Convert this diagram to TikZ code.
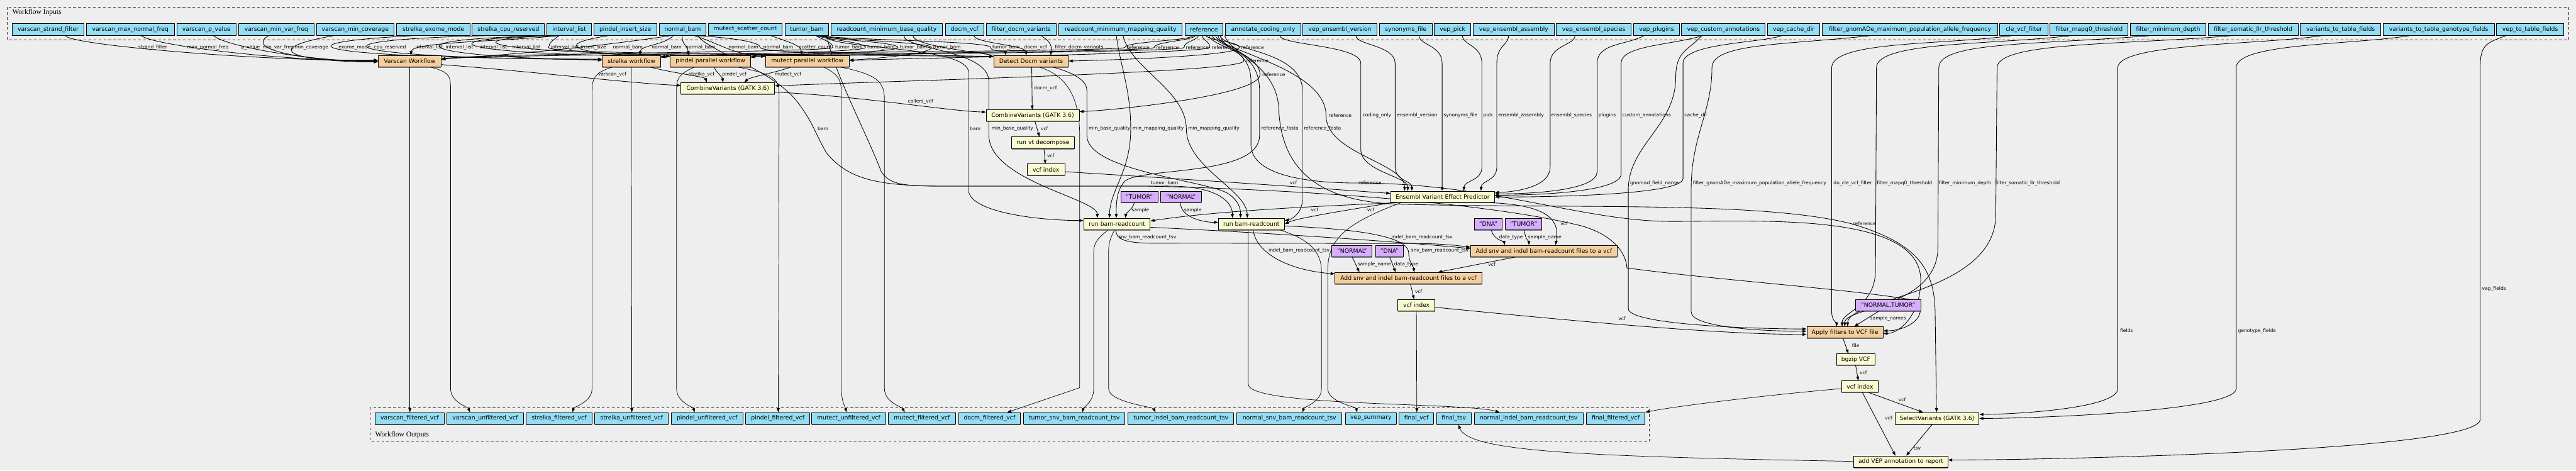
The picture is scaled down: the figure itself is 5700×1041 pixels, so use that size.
\documentclass[tikz,border=0pt]{standalone}
\usepackage{fontspec}
\setmainfont{DejaVu Sans}
\newfontfamily\ttlfont{Liberation Serif}
\usetikzlibrary{arrows.meta,shadows}
\definecolor{bgc}{HTML}{EEEEEE}
\definecolor{inc}{HTML}{94DDF4}
\definecolor{stc}{HTML}{FAFAD2}
\definecolor{sbc}{HTML}{F3CF9F}
\definecolor{cnc}{HTML}{D5AEFC}
\pgfdeclarelayer{back}\pgfdeclarelayer{edgelayer}\pgfsetlayers{back,edgelayer,main}
\newcommand\nodefont{\fontsize{12.9}{15}\selectfont}
\newcommand\labfont{\fontsize{10.6}{12}\selectfont}
\newcommand\mkbox[7]{\node[#2, minimum width={(#4-#3)*1pt}, minimum height={(#6-#5)*1pt}] (#1) at ({(#3+#4)/2},{-(#5+#6)/2}) {#7};}
\begin{document}
\begin{tikzpicture}[x=1pt,y=1pt,
 box/.style={draw=black, line width=1.3pt, inner sep=0pt, font=\nodefont, drop shadow={shadow xshift=0pt,shadow yshift=-2pt,fill=black,opacity=0.45}},
 inp/.style={box, fill=inc},
 stp/.style={box, fill=stc},
 sub/.style={box, fill=sbc},
 cst/.style={box, fill=cnc},
 outp/.style={box, fill=inc},
 e/.style={draw=black, line width=1.2pt, -{Triangle[length=9pt,width=6.5pt]}},
 eo/.style={e, line width=1pt},
 lab/.style={font=\labfont, anchor=west, inner sep=0.5pt, text=black},
 clu/.style={draw=black!85, line width=1.5pt, dash pattern=on 6pt off 5pt},
]
\useasboundingbox (0,0) rectangle (5700,-1041);
\begin{pgfonlayer}{back}
\fill[bgc] (0,0) rectangle (5700,-1041);
\draw[clu] (16,-16) rectangle (5684,-89);
\node[font=\ttlfont\fontsize{16}{18}\selectfont, anchor=west, inner sep=0pt] (tin) at (27,-28) {Workflow Inputs};
\draw[clu] (819,-902) rectangle (3650,-976);
\node[font=\ttlfont\fontsize{16}{18}\selectfont, anchor=west, inner sep=0pt] (tout) at (830,-963) {Workflow Outputs};
\end{pgfonlayer}

% ---------- inputs
\mkbox{iStrand}{inp}{27}{186}{52}{78}{varscan\_strand\_filter}
\mkbox{iMaxNorm}{inp}{191}{386}{52}{78}{varscan\_max\_normal\_freq}
\mkbox{iPval}{inp}{392}{522}{52}{78}{varscan\_p\_value}
\mkbox{iMinVar}{inp}{528}{695}{52}{78}{varscan\_min\_var\_freq}
\mkbox{iMinCov}{inp}{700}{872}{52}{78}{varscan\_min\_coverage}
\mkbox{iExome}{inp}{878}{1040}{52}{78}{strelka\_exome\_mode}
\mkbox{iCpu}{inp}{1045}{1205}{52}{78}{strelka\_cpu\_reserved}
\mkbox{iInt}{inp}{1210}{1309}{52}{78}{interval\_list}
\mkbox{iIns}{inp}{1314}{1453}{52}{78}{pindel\_insert\_size}
\mkbox{iNorm}{inp}{1459}{1562}{52}{78}{normal\_bam}
\mkbox{iScat}{inp}{1568}{1730}{52}{78}{mutect\_scatter\_count}
\mkbox{iTum}{inp}{1737}{1834}{52}{78}{tumor\_bam}
\mkbox{iBaseQ}{inp}{1839}{2085}{52}{78}{readcount\_minimum\_base\_quality}
\mkbox{iDocm}{inp}{2092}{2177}{52}{78}{docm\_vcf}
\mkbox{iFDocm}{inp}{2182}{2337}{52}{78}{filter\_docm\_variants}
\mkbox{iMapQ}{inp}{2343}{2616}{52}{78}{readcount\_minimum\_mapping\_quality}
\mkbox{iRef}{inp}{2622}{2706}{52}{78}{reference}
\mkbox{iCod}{inp}{2712}{2878}{52}{78}{annotate\_coding\_only}
\mkbox{iVer}{inp}{2883}{3047}{52}{78}{vep\_ensembl\_version}
\mkbox{iSyn}{inp}{3052}{3169}{52}{78}{synonyms\_file}
\mkbox{iPick}{inp}{3174}{3254}{52}{78}{vep\_pick}
\mkbox{iAsm}{inp}{3260}{3439}{52}{78}{vep\_ensembl\_assembly}
\mkbox{iSpe}{inp}{3444}{3609}{52}{78}{vep\_ensembl\_species}
\mkbox{iPlug}{inp}{3615}{3716}{52}{78}{vep\_plugins}
\mkbox{iCust}{inp}{3721}{3906}{52}{78}{vep\_custom\_annotations}
\mkbox{iCache}{inp}{3911}{4027}{52}{78}{vep\_cache\_dir}
\mkbox{iGnom}{inp}{4032}{4421}{52}{78}{filter\_gnomADe\_maximum\_population\_allele\_frequency}
\mkbox{iCle}{inp}{4425}{4532}{52}{78}{cle\_vcf\_filter}
\mkbox{iMq0}{inp}{4536}{4709}{52}{78}{filter\_mapq0\_threshold}
\mkbox{iDep}{inp}{4714}{4881}{52}{78}{filter\_minimum\_depth}
\mkbox{iLlr}{inp}{4886}{5085}{52}{78}{filter\_somatic\_llr\_threshold}
\mkbox{iFld}{inp}{5090}{5268}{52}{78}{variants\_to\_table\_fields}
\mkbox{iGeno}{inp}{5273}{5519}{52}{78}{variants\_to\_table\_genotype\_fields}
\mkbox{iVtt}{inp}{5524}{5673}{52}{78}{vep\_to\_table\_fields}

% ---------- steps
\mkbox{sVar}{sub}{837}{976}{123}{148}{Varscan Workflow}
\mkbox{sStr}{sub}{1333}{1462}{123}{148}{strelka workflow}
\mkbox{sPin}{sub}{1483}{1661}{123}{148}{pindel parallel workflow}
\mkbox{sMut}{sub}{1694}{1879}{123}{148}{mutect parallel workflow}
\mkbox{sDoc}{sub}{2199}{2364}{123}{148}{Detect Docm variants}
\mkbox{sCv1}{stp}{1507}{1714}{183}{208}{CombineVariants (GATK 3.6)}
\mkbox{sCv2}{stp}{2182}{2388}{243}{268}{CombineVariants (GATK 3.6)}
\mkbox{sVt}{stp}{2239}{2377}{303}{329}{run vt decompose}
\mkbox{sIx1}{stp}{2273}{2356}{363}{388}{vcf index}
\mkbox{sVep}{stp}{3077}{3307}{423}{448}{Ensembl Variant Effect Predictor}
\mkbox{kTum1}{cst}{2480}{2562}{423}{448}{"TUMOR"}
\mkbox{kNor1}{cst}{2568}{2658}{423}{448}{"NORMAL"}
\mkbox{sRc1}{stp}{2398}{2545}{483}{509}{run bam-readcount}
\mkbox{sRc2}{stp}{2696}{2842}{483}{509}{run bam-readcount}
\mkbox{kDna1}{cst}{3262}{3324}{483}{509}{"DNA"}
\mkbox{kTum2}{cst}{3331}{3412}{483}{509}{"TUMOR"}
\mkbox{sAt}{sub}{3254}{3578}{543}{568}{Add snv and indel bam-readcount files to a vcf}
\mkbox{kNor2}{cst}{2947}{3036}{543}{568}{"NORMAL"}
\mkbox{kDna2}{cst}{3044}{3105}{543}{568}{"DNA"}
\mkbox{sAn}{sub}{2954}{3279}{603}{628}{Add snv and indel bam-readcount files to a vcf}
\mkbox{sIx2}{stp}{3093}{3175}{663}{688}{vcf index}
\mkbox{kNT}{cst}{4106}{4250}{663}{688}{"NORMAL,TUMOR"}
\mkbox{sAf}{sub}{3998}{4167}{723}{748}{Apply filters to VCF file}
\mkbox{sBg}{stp}{4064}{4149}{783}{808}{bgzip VCF}
\mkbox{sIx3}{stp}{4075}{4156}{843}{868}{vcf index}
\mkbox{sSv}{stp}{4193}{4379}{913}{939}{SelectVariants (GATK 3.6)}
\mkbox{sAv}{stp}{4102}{4310}{1009}{1035}{add VEP annotation to report}

% ---------- outputs
\mkbox{oVf}{outp}{830}{983}{913}{939}{varscan\_filtered\_vcf}
\mkbox{oVu}{outp}{989}{1158}{913}{939}{varscan\_unfiltered\_vcf}
\mkbox{oSf}{outp}{1164}{1310}{913}{939}{strelka\_filtered\_vcf}
\mkbox{oSu}{outp}{1316}{1479}{913}{939}{strelka\_unfiltered\_vcf}
\mkbox{oPu}{outp}{1485}{1644}{913}{939}{pindel\_unfiltered\_vcf}
\mkbox{oPf}{outp}{1650}{1792}{913}{939}{pindel\_filtered\_vcf}
\mkbox{oMu}{outp}{1796}{1960}{913}{939}{mutect\_unfiltered\_vcf}
\mkbox{oMf}{outp}{1966}{2114}{913}{939}{mutect\_filtered\_vcf}
\mkbox{oDf}{outp}{2121}{2258}{913}{939}{docm\_filtered\_vcf}
\mkbox{oTs}{outp}{2265}{2489}{913}{939}{tumor\_snv\_bam\_readcount\_tsv}
\mkbox{oTi}{outp}{2496}{2730}{913}{939}{tumor\_indel\_bam\_readcount\_tsv}
\mkbox{oNs}{outp}{2737}{2969}{913}{939}{normal\_snv\_bam\_readcount\_tsv}
\mkbox{oVs}{outp}{2977}{3090}{913}{939}{vep\_summary}
\mkbox{oFv}{outp}{3096}{3172}{913}{939}{final\_vcf}
\mkbox{oFt}{outp}{3179}{3255}{913}{939}{final\_tsv}
\mkbox{oNi}{outp}{3262}{3503}{913}{939}{normal\_indel\_bam\_readcount\_tsv}
\mkbox{oFf}{outp}{3510}{3640}{913}{939}{final\_filtered\_vcf}

\begin{pgfonlayer}{edgelayer}
% varscan inputs
\draw[e] (145,0 |- iStrand.south) .. controls (150,-100) and (600,-137) .. (sVar.west |- 0,-133) node[lab] at (305,-105) {strand\_filter};
\draw[e] (312,0 |- iMaxNorm.south) .. controls (340,-102) and (650,-137) .. (sVar.west |- 0,-134) node[lab] at (413,-105) {max\_normal\_freq};
\draw[e] (472,0 |- iPval.south) .. controls (500,-104) and (700,-137) .. (sVar.west |- 0,-135) node[lab] at (533,-105) {p\_value};
\draw[e] (595,0 |- iMinVar.south) .. controls (530,-115) and (720,-137) .. (sVar.west |- 0,-136) node[lab] at (580,-105) {min\_var\_freq};
\draw[e] (740,0 |- iMinCov.south) .. controls (560,-110) and (660,-137) .. (sVar.west |- 0,-137) node[lab] at (651,-105) {min\_coverage};
% strelka inputs
\draw[e] (920,0 |- iExome.south) .. controls (600,-95) and (660,-128) .. (sStr.west |- 0,-131) node[lab] at (748,-105) {exome\_mode};
\draw[e] (1089,0 |- iCpu.south) .. controls (660,-88) and (720,-128) .. (sStr.west |- 0,-132) node[lab] at (826,-105) {cpu\_reserved};
% interval list
\draw[e] (1237,0 |- iInt.south) .. controls (1120,-92) and (912,-92) .. (909,0 |- sVar.north) node[lab] at (918,-105) {interval\_list};
\draw[e] (1237,0 |- iInt.south) .. controls (835,-85) and (910,-126) .. (sStr.west |- 0,-133) node[lab] at (985,-105) {interval\_list};
\draw[e] (1237,0 |- iInt.south) .. controls (920,-85) and (990,-121) .. (sPin.west |- 0,-124.5) node[lab] at (1060,-105) {interval\_list};
\draw[e] (1237,0 |- iInt.south) .. controls (990,-85) and (1030,-119) .. (sMut.west |- 0,-124.5) node[lab] at (1133,-105) {interval\_list};
\draw[e] (1237,0 |- iInt.south) .. controls (1225,-88) and (1214,-95) .. (1214,-105) .. controls (1214,-117) and (1500,-119) .. (sDoc.west |- 0,-125) node[lab] at (1218,-105) {interval\_list};
\draw[e] (1348,0 |- iIns.south) .. controls (1220,-98) and (1260,-121) .. (sPin.west |- 0,-124.5) node[lab] at (1284,-105) {insert\_size};
% normal bam
\draw[e] (1485,0 |- iNorm.south) .. controls (1360,-98) and (1150,-121) .. (sVar.east |- 0,-130) node[lab] at (1355,-105) {normal\_bam};
\draw[e] (1490,0 |- iNorm.south) .. controls (1470,-100) and (1418,-100) .. (1416,0 |- sStr.north) node[lab] at (1441,-105) {normal\_bam};
\draw[e] (1510,0 |- iNorm.south) .. controls (1508,-100) and (1522,-100) .. (1523,0 |- sPin.north) node[lab] at (1516,-105) {normal\_bam};
\draw[e] (1535,0 |- iNorm.south) .. controls (1590,-95) and (1620,-120) .. (sMut.west |- 0,-125) node[lab] at (1611,-105) {normal\_bam};
\draw[e] (1540,0 |- iNorm.south) .. controls (1640,-85) and (1682,-95) .. (1682,-105) .. controls (1682,-117) and (1900,-119) .. (sDoc.west |- 0,-125) node[lab] at (1688,-105) {normal\_bam};
\draw[e] (1705,0 |- iScat.south) .. controls (1750,-95) and (1772,-100) .. (1774,0 |- sMut.north) node[lab] at (1767,-105) {scatter\_count};
% tumor bam
\draw[e] (1805,0 |- iTum.south) .. controls (1820,-88) and (1843,-93) .. (1843,-105) .. controls (1843,-116) and (1050,-118) .. (sVar.east |- 0,-131) node[lab] at (1847,-105) {tumor\_bam};
\draw[e] (1808,0 |- iTum.south) .. controls (1825,-88) and (1915,-93) .. (1915,-105) .. controls (1915,-118) and (1490,-120) .. (sStr.east |- 0,-127) node[lab] at (1918,-105) {tumor\_bam};
\draw[e] (1812,0 |- iTum.south) .. controls (1830,-88) and (1987,-93) .. (1987,-105) .. controls (1987,-118) and (1690,-120) .. (sPin.east |- 0,-127) node[lab] at (1990,-105) {tumor\_bam};
\draw[e] (1816,0 |- iTum.south) .. controls (1835,-88) and (2061,-93) .. (2061,-105) .. controls (2061,-120) and (1920,-131) .. (sMut.east |- 0,-133) node[lab] at (2064,-105) {tumor\_bam};
\draw[e] (1820,0 |- iTum.south) .. controls (1840,-88) and (2192,-90) .. (2192,-105) .. controls (2192,-115) and (2224,-112) .. (2226,0 |- sDoc.north) node[lab] at (2195,-105) {tumor\_bam};
% docm
\draw[e] (2155,0 |- iDocm.south) .. controls (2155,-95) and (2268,-100) .. (2271,0 |- sDoc.north) node[lab] at (2265,-105) {docm\_vcf};
\draw[e] (2303,0 |- iFDocm.south) .. controls (2330,-95) and (2326,-105) .. (2325,0 |- sDoc.north) node[lab] at (2333,-105) {filter\_docm\_variants};
% reference to callers
\draw[e] (2640,0 |- iRef.south) .. controls (2635,-90) and (2489,-92) .. (2489,-105) .. controls (2489,-116) and (1050,-118) .. (sVar.east |- 0,-132) node[lab] at (2492,-105) {reference};
\draw[e] (2645,0 |- iRef.south) .. controls (2640,-90) and (2554,-92) .. (2554,-105) .. controls (2554,-117) and (1500,-120) .. (sStr.east |- 0,-127) node[lab] at (2557,-105) {reference};
\draw[e] (2652,0 |- iRef.south) .. controls (2648,-90) and (2620,-92) .. (2620,-105) .. controls (2620,-117) and (1700,-120) .. (sPin.east |- 0,-127) node[lab] at (2623,-105) {reference};
\draw[e] (2660,0 |- iRef.south) .. controls (2662,-90) and (2677,-92) .. (2677,-105) .. controls (2677,-118) and (1950,-130) .. (sMut.east |- 0,-134) node[lab] at (2680,-105) {reference};
\draw[e] (2668,0 |- iRef.south) .. controls (2675,-90) and (2742,-92) .. (2742,-105) .. controls (2742,-125) and (2420,-134) .. (sDoc.east |- 0,-135) node[lab] at (2745,-105) {reference};
\draw[e] (2675,0 |- iRef.south) .. controls (2680,-100) and (2752,-110) .. (2752,-135) .. controls (2752,-160) and (2000,-178) .. (sCv1.east |- 0,-190) node[lab] at (2755,-135) {reference};
\draw[e] (2682,0 |- iRef.south) .. controls (2690,-100) and (2788,-120) .. (2788,-165) .. controls (2788,-210) and (2480,-243) .. (sCv2.east |- 0,-247) node[lab] at (2792,-165) {reference};
% combine
\draw[e] (sVar.east |- 0,-143) .. controls (1200,-160) and (1400,-185) .. (sCv1.west |- 0,-189) node[lab] at (1322,-165) {varscan\_vcf};
\draw[e] (1440,0 |- sStr.south) .. controls (1480,-160) and (1560,-170) .. (1564,0 |- sCv1.north) node[lab] at (1523,-165) {strelka\_vcf};
\draw[e] (1580,0 |- sPin.south) .. controls (1585,-160) and (1598,-170) .. (1600,0 |- sCv1.north) node[lab] at (1597,-165) {pindel\_vcf};
\draw[e] (1749,0 |- sMut.south) .. controls (1720,-160) and (1660,-170) .. (1647,0 |- sCv1.north) node[lab] at (1713,-165) {mutect\_vcf};
\draw[e] (sCv1.east |- 0,-204) .. controls (1900,-212) and (2100,-246) .. (sCv2.west |- 0,-248) node[lab] at (2008,-225) {callers\_vcf};
\draw[e] (2283,0 |- sDoc.south) -- (2284,0 |- sCv2.north) node[lab] at (2287,-195) {docm\_vcf};
\draw[e] (2290,0 |- sCv2.south) -- (2300,0 |- sVt.north) node[lab] at (2302,-285) {vcf};
\draw[e] (2310,0 |- sVt.south) -- (2313,0 |- sIx1.north) node[lab] at (2316,-345) {vcf};
\draw[e] (sIx1.east |- 0,-380) .. controls (2600,-395) and (2900,-415) .. (sVep.west |- 0,-428) node[lab] at (2853,-405) {vcf};
% VEP inputs
\draw[e] (2690,0 |- iRef.south) .. controls (2690,-110) and (2934,-150) .. (2934,-255) .. controls (2934,-340) and (3108,-360) .. (3108,0 |- sVep.north) node[lab] at (2939,-255) {reference};
\draw[e] (2832,0 |- iCod.south) .. controls (2832,-100) and (3011,-100) .. (3011,-140) -- (3011,-330) .. controls (3011,-380) and (3115,-390) .. (3115,0 |- sVep.north) node[lab] at (3014,-255) {coding\_only};
\draw[e] (3000,0 |- iVer.south) .. controls (3000,-100) and (3087,-100) .. (3087,-140) -- (3087,-370) .. controls (3087,-400) and (3124,-400) .. (3124,0 |- sVep.north) node[lab] at (3090,-255) {ensembl\_version};
\draw[e] (3140,0 |- iSyn.south) .. controls (3140,-100) and (3191,-100) .. (3191,-140) -- (3191,0 |- sVep.north) node[lab] at (3193,-255) {synonyms\_file};
\draw[e] (3236,0 |- iPick.south) .. controls (3236,-100) and (3279,-100) .. (3279,-140) -- (3279,-370) .. controls (3279,-400) and (3240,-400) .. (3239,0 |- sVep.north) node[lab] at (3281,-255) {pick};
\draw[e] (3338,0 |- iAsm.south) .. controls (3338,-100) and (3312,-100) .. (3312,-140) -- (3312,-370) .. controls (3312,-400) and (3278,-400) .. (3277,0 |- sVep.north) node[lab] at (3314,-255) {ensembl\_assembly};
\draw[e] (3485,0 |- iSpe.south) .. controls (3485,-100) and (3430,-100) .. (3430,-140) -- (3430,-370) .. controls (3430,-415) and (3350,-425) .. (sVep.east |- 0,-426) node[lab] at (3431,-255) {ensembl\_species};
\draw[e] (3638,0 |- iPlug.south) .. controls (3600,-100) and (3534,-95) .. (3534,-140) -- (3534,-380) .. controls (3534,-420) and (3400,-429) .. (sVep.east |- 0,-429) node[lab] at (3536,-255) {plugins};
\draw[e] (3768,0 |- iCust.south) .. controls (3700,-100) and (3587,-100) .. (3587,-140) -- (3587,-385) .. controls (3587,-425) and (3400,-432) .. (sVep.east |- 0,-432) node[lab] at (3589,-255) {custom\_annotations};
\draw[e] (3943,0 |- iCache.south) .. controls (3900,-95) and (3724,-95) .. (3724,-140) -- (3724,-395) .. controls (3724,-430) and (3450,-436) .. (sVep.east |- 0,-436) node[lab] at (3726,-255) {cache\_dir};
% filter inputs
\draw[e] (3765,0 |- iCust.south) .. controls (3740,-110) and (3708,-110) .. (3708,-170) .. controls (3708,-280) and (3603,-320) .. (3603,-420) -- (3603,-683) .. controls (3603,-720) and (3900,-728) .. (sAf.west |- 0,-728) node[lab] at (3606,-405) {gnomad\_field\_name};
\draw[e] (4141,0 |- iGnom.south) .. controls (3950,-100) and (3788,-95) .. (3788,-150) .. controls (3788,-250) and (3742,-300) .. (3742,-420) -- (3742,-690) .. controls (3742,-725) and (3900,-733) .. (sAf.west |- 0,-733) node[lab] at (3745,-405) {filter\_gnomADe\_maximum\_population\_allele\_frequency};
\draw[e] (4453,0 |- iCle.south) .. controls (4300,-100) and (4053,-90) .. (4053,-150) -- (4053,-690) .. controls (4053,-710) and (4064,-715) .. (4064,0 |- sAf.north) node[lab] at (4056,-405) {do\_cle\_vcf\_filter};
\draw[e] (4585,0 |- iMq0.south) .. controls (4400,-100) and (4152,-92) .. (4152,-150) -- (4150,-600) .. controls (4148,-680) and (4076,-690) .. (4076,0 |- sAf.north) node[lab] at (4152,-405) {filter\_mapq0\_threshold};
\draw[e] (4761,0 |- iDep.south) .. controls (4500,-100) and (4290,-92) .. (4290,-150) -- (4288,-550) .. controls (4285,-680) and (4082,-680) .. (4082,0 |- sAf.north) node[lab] at (4289,-405) {filter\_minimum\_depth};
\draw[e] (4941,0 |- iLlr.south) .. controls (4700,-100) and (4419,-92) .. (4419,-150) -- (4416,-480) .. controls (4410,-650) and (4090,-660) .. (4088,0 |- sAf.north) node[lab] at (4414,-405) {filter\_somatic\_llr\_threshold};
\draw[e] (5139,0 |- iFld.south) .. controls (5000,-100) and (4686,-95) .. (4686,-150) -- (4686,-860) .. controls (4686,-905) and (4450,-917) .. (sSv.east |- 0,-917) node[lab] at (4690,-732) {fields};
\draw[e] (5334,0 |- iGeno.south) .. controls (5200,-100) and (4948,-95) .. (4948,-150) -- (4948,-860) .. controls (4948,-910) and (4500,-926) .. (sSv.east |- 0,-926) node[lab] at (4951,-732) {genotype\_fields};
\draw[e] (5546,0 |- iVtt.south) .. controls (5500,-95) and (5488,-100) .. (5488,-150) -- (5488,-928) .. controls (5488,-1000) and (4500,-1018) .. (sAv.east |- 0,-1018) node[lab] at (5491,-640) {vep\_fields};
% reference to filters and select
\draw[e] (2700,0 |- iRef.south) .. controls (2705,-110) and (2768,-110) .. (2768,-180) -- (2768,-320) .. controls (2768,-390) and (2900,-405) .. (3002,-405) .. controls (3300,-405) and (3500,-490) .. (3700,-490) .. controls (3900,-490) and (4250,-470) .. (4250,-620) .. controls (4250,-700) and (4200,-738) .. (sAf.east |- 0,-738) node[lab] at (3005,-405) {reference};
\draw[e] (2710,0 |- iRef.south) .. controls (2720,-120) and (2830,-140) .. (2830,-250) .. controls (2840,-400) and (2950,-448) .. (3100,-452) .. controls (3500,-462) and (3900,-445) .. (4096,-495) .. controls (4250,-540) and (4282,-600) .. (4282,-700) -- (4285,0 |- sSv.north) node[lab] at (4099,-495) {reference};
\draw[e] (1830,0 |- iTum.south) .. controls (1840,-150) and (1920,-300) .. (1950,-380) .. controls (1970,-410) and (2000,-412) .. (2100,-412) -- (2540,-412) .. controls (2900,-420) and (3300,-450) .. (3500,-500) .. controls (3570,-520) and (3598,-560) .. (3600,-593) .. controls (3800,-620) and (4100,-640) .. (4240,-665) .. controls (4270,-700) and (4220,-732) .. (sAf.east |- 0,-732) node[lab] at (2545,-405) {tumor\_bam};
% bam-readcount tumor
\draw[e] (1825,0 |- iTum.south) .. controls (1830,-110) and (2143,-100) .. (2143,-160) -- (2143,-420) .. controls (2143,-470) and (2300,-488) .. (sRc1.west |- 0,-488) node[lab] at (2145,-285) {bam};
\draw[e] (2000,0 |- iBaseQ.south) .. controls (2000,-110) and (2188,-110) .. (2188,-180) -- (2188,-300) .. controls (2190,-400) and (2428,-440) .. (2428,0 |- sRc1.north) node[lab] at (2193,-285) {min\_base\_quality};
\draw[e] (2470,0 |- iMapQ.south) .. controls (2480,-150) and (2502,-200) .. (2502,-285) .. controls (2502,-380) and (2456,-420) .. (2455,0 |- sRc1.north) node[lab] at (2505,-285) {min\_mapping\_quality};
\draw[e] (2695,0 |- iRef.south) .. controls (2700,-110) and (2787,-110) .. (2787,-200) -- (2787,-300) .. controls (2787,-390) and (2530,-370) .. (2490,-400) .. controls (2470,-420) and (2470,-450) .. (2470,0 |- sRc1.north) node[lab] at (2790,-285) {reference\_fasta};
\draw[e] (2510,0 |- kTum1.south) .. controls (2505,-465) and (2492,-470) .. (2490,0 |- sRc1.north) node[lab] at (2503,-465) {sample};
\draw[e] (3090,0 |- sVep.south) .. controls (2950,-455) and (2700,-465) .. (sRc1.east |- 0,-489) node[lab] at (3024,-465) {vcf};
% bam-readcount normal
\draw[e] (1545,0 |- iNorm.south) .. controls (1560,-110) and (1700,-150) .. (1760,-220) .. controls (1800,-270) and (1805,-300) .. (1830,-340) .. controls (1880,-400) and (1950,-412) .. (2100,-412) -- (2600,-412) .. controls (2700,-415) and (2727,-450) .. (2727,0 |- sRc2.north) node[lab] at (1808,-285) {bam};
\draw[e] (2020,0 |- iBaseQ.south) .. controls (2025,-120) and (2405,-120) .. (2405,-200) -- (2405,-300) .. controls (2405,-380) and (2680,-400) .. (2720,-430) .. controls (2740,-445) and (2745,-460) .. (2745,0 |- sRc2.north) node[lab] at (2408,-285) {min\_base\_quality};
\draw[e] (2485,0 |- iMapQ.south) .. controls (2500,-150) and (2625,-200) .. (2625,-285) .. controls (2625,-370) and (2758,-420) .. (2760,0 |- sRc2.north) node[lab] at (2628,-285) {min\_mapping\_quality};
\draw[e] (2700,0 |- iRef.south) .. controls (2705,-110) and (2882,-110) .. (2882,-200) -- (2882,-440) .. controls (2882,-470) and (2860,-485) .. (sRc2.east |- 0,-488) node[lab] at (2884,-285) {reference\_fasta};
\draw[e] (2612,0 |- kNor1.south) .. controls (2612,-480) and (2660,-492) .. (sRc2.west |- 0,-492) node[lab] at (2619,-465) {sample};
\draw[e] (3080,0 |- sVep.south) .. controls (3000,-462) and (2870,-482) .. (sRc2.east |- 0,-496) node[lab] at (2900,-465) {vcf};
% add tumor readcount
\draw[e] (3300,0 |- sVep.south) .. controls (3440,-455) and (3450,-495) .. (3442,0 |- sAt.north) node[lab] at (3452,-495) {vcf};
\draw[e] (2469,0 |- sRc1.south) .. controls (2470,-530) and (2490,-538) .. (2550,-538) -- (3150,-539) .. controls (3200,-540) and (3230,-544) .. (sAt.west |- 0,-547) node[lab] at (2474,-525) {snv\_bam\_readcount\_tsv};
\draw[e] (sRc1.east |- 0,-503) .. controls (2800,-515) and (3100,-535) .. (sAt.west |- 0,-550) node[lab] at (3078,-525) {indel\_bam\_readcount\_tsv};
\draw[e] (3300,0 |- kDna1.south) .. controls (3305,-530) and (3328,-535) .. (3330,0 |- sAt.north) node[lab] at (3316,-525) {data\_type};
\draw[e] (3373,0 |- kTum2.south) .. controls (3375,-530) and (3383,-535) .. (3383,0 |- sAt.north) node[lab] at (3380,-525) {sample\_name};
% add normal readcount
\draw[e] (3354,0 |- sAt.south) -- (3182,0 |- sAn.north) node[lab] at (3292,-585) {vcf};
\draw[e] (2773,0 |- sRc2.south) .. controls (2780,-560) and (2850,-598) .. (sAn.west |- 0,-606) node[lab] at (2806,-555) {indel\_bam\_readcount\_tsv};
\draw[e] (sRc2.east |- 0,-500) .. controls (2950,-505) and (3117,-515) .. (3117,-560) .. controls (3117,-580) and (3128,-590) .. (3129,0 |- sAn.north) node[lab] at (3121,-555) {snv\_bam\_readcount\_tsv};
\draw[e] (2992,0 |- kNor2.south) -- (3008,0 |- sAn.north) node[lab] at (3003,-585) {sample\_name};
\draw[e] (3075,0 |- kDna2.south) -- (3088,0 |- sAn.north) node[lab] at (3084,-585) {data\_type};
\draw[e] (3121,0 |- sAn.south) -- (3129,0 |- sIx2.north) node[lab] at (3130,-645) {vcf};
% filter chain
\draw[e] (sIx2.east |- 0,-680) .. controls (3500,-712) and (3800,-740) .. (sAf.west |- 0,-740) node[lab] at (3580,-705) {vcf};
\draw[e] (4157,0 |- kNT.south) -- (4103,0 |- sAf.north) node[lab] at (4137,-705) {sample\_names};
\draw[e] (4078,0 |- sAf.south) -- (4090,0 |- sBg.north) node[lab] at (4097,-765) {file};
\draw[e] (4106,0 |- sBg.south) -- (4112,0 |- sIx3.north) node[lab] at (4114,-825) {vcf};
\draw[e] (4135,0 |- sIx3.south) -- (4255,0 |- sSv.north) node[lab] at (4200,-885) {vcf};
\draw[e] (4121,0 |- sIx3.south) -- (4194,0 |- sAv.north) node[lab] at (4170,-925) {vcf};
\draw[e] (4275,0 |- sSv.south) -- (4218,0 |- sAv.north) node[lab] at (4233,-992) {tsv};
% outputs
\draw[eo] (907,0 |- sVar.south) -- (907,0 |- oVf.north);
\draw[eo] (953,0 |- sVar.south) .. controls (997,-160) and (997,-170) .. (997,-200) -- (997,-860) .. controls (997,-890) and (1035,-900) .. (1040,0 |- oVu.north);
\draw[eo] (1354,0 |- sStr.south) .. controls (1320,-160) and (1310,-170) .. (1310,-200) -- (1310,-860) .. controls (1310,-890) and (1270,-900) .. (1267,0 |- oSf.north);
\draw[eo] (1397,0 |- sStr.south) -- (1398,0 |- oSu.north);
\draw[eo] (1536,0 |- sPin.south) .. controls (1500,-165) and (1497,-175) .. (1497,-200) -- (1497,-860) .. controls (1497,-890) and (1533,-900) .. (1537,0 |- oPu.north);
\draw[eo] (1634,0 |- sPin.south) .. controls (1715,-165) and (1724,-175) .. (1724,-210) -- (1722,0 |- oPf.north);
\draw[eo] (1823,0 |- sMut.south) .. controls (1855,-165) and (1862,-175) .. (1862,-210) -- (1862,-860) .. controls (1862,-890) and (1870,-900) .. (1873,0 |- oMu.north);
\draw[eo] (1861,0 |- sMut.south) .. controls (1940,-165) and (1957,-180) .. (1957,-220) -- (1957,-860) .. controls (1957,-890) and (1995,-900) .. (2002,0 |- oMf.north);
\draw[eo] (2300,0 |- sDoc.south) .. controls (2370,-170) and (2389,-230) .. (2389,-300) -- (2389,-858) -- (2229,0 |- oDf.north);
\draw[eo] (2451,0 |- sRc1.south) .. controls (2425,-530) and (2420,-540) .. (2420,-560) -- (2420,-860) .. controls (2420,-890) and (2398,-900) .. (2395,0 |- oTs.north);
\draw[eo] (2466,0 |- sRc1.south) .. controls (2455,-530) and (2453,-540) .. (2453,-560) -- (2453,-860) .. controls (2453,-890) and (2550,-900) .. (2557,0 |- oTi.north);
\draw[eo] (2834,0 |- sRc2.south) .. controls (2900,-530) and (2924,-560) .. (2924,-600) -- (2924,-860) .. controls (2924,-890) and (2886,-900) .. (2882,0 |- oNs.north);
\draw[eo] (2762,0 |- sRc2.south) -- (2762,-850) .. controls (2762,-900) and (3240,-890) .. (3318,0 |- oNi.north);
\draw[eo] (3100,0 |- sVep.south) .. controls (2960,-500) and (2938,-540) .. (2938,-600) -- (2938,-860) .. controls (2938,-890) and (3000,-900) .. (3003,0 |- oVs.north);
\draw[eo] (3134,0 |- sIx2.south) -- (3135,0 |- oFv.north);
\draw[eo] (sIx3.west |- 0,-860) .. controls (3900,-875) and (3700,-900) .. (oFf.north east);
\draw[eo] (sAv.west |- 0,-1021) .. controls (3500,-1010) and (3250,-1000) .. (3227,0 |- oFt.south);
\end{pgfonlayer}
\end{tikzpicture}
\end{document}
